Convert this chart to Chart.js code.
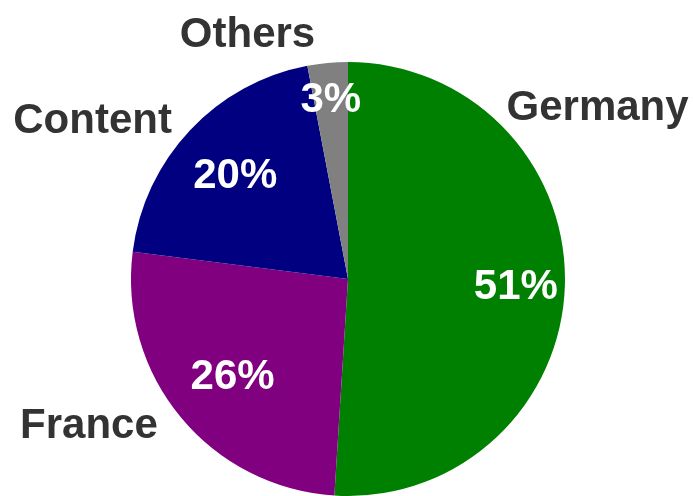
<!DOCTYPE html>
<html>
<head>
<meta charset="utf-8">
<script src="https://cdn.jsdelivr.net/npm/chart.js@4/dist/chart.umd.min.js"></script>
<style>
  html, body { margin: 0; padding: 0; background: #ffffff; }
  #wrap { width: 694px; height: 496px; position: relative; }
</style>
</head>
<body>
<div id="wrap"><canvas id="chart"></canvas></div>
<script>
// Market share by segment
const categories = ['Germany', 'France', 'Content', 'Others'];
const shares = [51, 26, 20, 3];
const sliceColors = ['#008000', '#800080', '#000080', '#808080'];

// Where the percentage sits inside each slice, as a fraction of the radius
const valueRadius = [0.774, 0.69, 0.713, 0.841];
// Category name baseline anchor, in radius units from the pie centre
const nameOffset = [
  [1.150, -0.733],
  [-1.194, 0.733],
  [-1.177, -0.673],
  [-0.463, -1.069]
];

const FONT_SIZE = 42;
const FONT = 'bold ' + FONT_SIZE + 'px "Liberation Sans", Arial, sans-serif';

const sliceLabels = {
  id: 'sliceLabels',
  afterDatasetsDraw(chart) {
    const ctx = chart.ctx;
    const meta = chart.getDatasetMeta(0);
    const data = chart.data.datasets[0].data;
    const total = data.reduce((a, b) => a + b, 0);
    const halfCap = FONT_SIZE * 0.357;
    ctx.save();
    ctx.font = FONT;
    ctx.textAlign = 'center';
    ctx.textBaseline = 'alphabetic';
    meta.data.forEach((arc, i) => {
      const p = arc.getProps(['x', 'y', 'startAngle', 'endAngle', 'outerRadius'], true);
      const mid = (p.startAngle + p.endAngle) / 2;
      const r = p.outerRadius * valueRadius[i];
      ctx.fillStyle = '#ffffff';
      ctx.fillText(Math.round(data[i] / total * 100) + '%',
        p.x + Math.cos(mid) * r, p.y + Math.sin(mid) * r + halfCap);
      ctx.fillStyle = '#333333';
      ctx.fillText(chart.data.labels[i],
        p.x + nameOffset[i][0] * p.outerRadius,
        p.y + nameOffset[i][1] * p.outerRadius);
    });
    ctx.restore();
  }
};

new Chart(document.getElementById('chart'), {
  type: 'pie',
  data: {
    labels: categories,
    datasets: [{
      data: shares,
      backgroundColor: sliceColors,
      borderWidth: 0
    }]
  },
  options: {
    responsive: true,
    maintainAspectRatio: false,
    animation: false,
    layout: { padding: { top: 62, left: 2, right: 0, bottom: 0 } },
    plugins: {
      legend: { display: false },
      tooltip: { enabled: false }
    }
  },
  plugins: [sliceLabels]
});
</script>
</body>
</html>
